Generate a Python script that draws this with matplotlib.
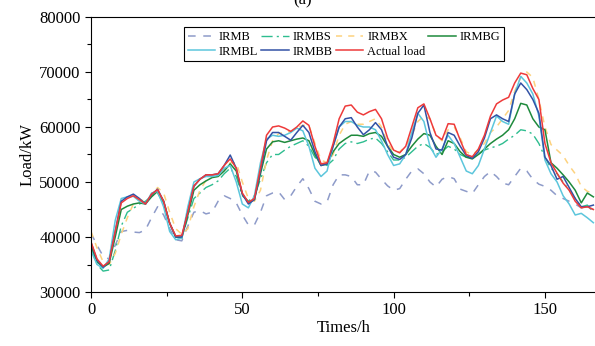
import numpy as np
import matplotlib.pyplot as plt

plt.rcParams['font.family'] = ['Liberation Serif', 'DejaVu Serif']

# hours, sampled every 2 h
t = np.arange(0, 168, 2)

irmb = [40700, 38500, 36500, 36000, 38500, 41000, 41200, 40900, 40800, 41300,
        43500, 45500, 44000, 41500, 39500, 39300, 42000, 44500, 44800, 44200,
        44500, 46500, 47500, 47000, 46200, 44000, 42200, 42200, 44500, 47500,
        48000, 48200, 46800, 47500, 49200, 50600, 48800, 46500, 46000, 46400,
        49500, 51300, 51300, 51000, 49500, 49500, 52000, 51800, 50500, 49300,
        48500, 48800, 50500, 52000, 52400, 51500, 50000, 49100, 50500, 51000,
        50600, 48700, 48300, 47900, 49500, 51000, 51900, 51000, 49800, 49500,
        51000, 52500, 52000, 50500, 49600, 49200, 48500, 47500, 47000, 46500,
        46000, 45300, 45500, 45000]

irmbs = [38000, 35000, 33800, 34000, 37500, 42000, 44500, 45200, 46000, 46500,
         47500, 48000, 46000, 42500, 40000, 40000, 43500, 47000, 48000, 49000,
         49500, 50200, 51500, 52500, 51000, 47500, 46500, 47500, 50500, 53500,
         55000, 55000, 55800, 56500, 57000, 57500, 56500, 54500, 53500, 53000,
         54000, 56000, 57000, 57300, 57000, 57300, 57800, 58000, 57000, 55500,
         54000, 54000, 54500, 55500, 56500, 57000, 56300, 55000, 55500, 56500,
         56000, 55000, 54500, 54500, 55000, 55800, 56200, 56500, 57000, 57800,
         58500, 59500, 59300, 58700, 57000, 54500, 52500, 51500, 50000, 48500,
         47000, 45500, 45800, 44500]

irmbx = [41000, 38000, 35500, 35000, 37000, 40500, 43500, 46000, 46800, 46500,
         47500, 49000, 48000, 44500, 41500, 40500, 41500, 45500, 48500, 50300,
         51000, 51000, 52300, 53500, 53500, 50000, 47000, 46500, 48500, 54000,
         57500, 58800, 59000, 59200, 59800, 60300, 60300, 57000, 54000, 53500,
         55000, 58500, 60500, 61000, 60500, 60500, 61000, 61500, 60000, 57000,
         55500, 55500, 56500, 58500, 61000, 62000, 61500, 58500, 57500, 59500,
         60000, 58000, 55500, 55000, 55800, 57000, 59000, 60000, 61500, 63000,
         66500, 69000, 70000, 69000, 65000, 60000, 56800, 55800, 54800, 53000,
         51500, 49200, 48300, 48000]

irmbg = [38500, 35500, 34500, 35200, 40000, 45000, 45600, 46000, 46200, 46000,
         47300, 48300, 46500, 42500, 40000, 39800, 44000, 48500, 49500, 50200,
         50800, 51000, 52000, 53300, 52000, 47800, 46300, 46800, 51500, 56000,
         57300, 57500, 57200, 57500, 57800, 58000, 57500, 55000, 53000, 53300,
         55500, 57000, 57800, 58500, 58500, 58300, 58800, 59000, 58300, 56500,
         55000, 54500, 55000, 56500, 57800, 58800, 58500, 56500, 55000, 57500,
         57000, 55500, 54500, 54200, 55000, 56000, 57000, 57800, 58500, 59500,
         61500, 64300, 64000, 61500, 60000, 59500, 53500, 52500, 51300, 50000,
         48500, 46200, 48000, 47300]

irmbl = [37500, 35000, 34300, 36000, 43000, 47000, 47300, 47400, 46500, 46000,
         48000, 48300, 45500, 41000, 39500, 39800, 45500, 50000, 50600, 51000,
         51000, 51200, 52500, 53000, 50000, 46000, 45300, 47500, 53500, 57800,
         58500, 58300, 58500, 59000, 59800, 59300, 56500, 52500, 51000, 52000,
         56500, 60000, 61000, 61000, 60300, 60000, 60000, 59500, 57500, 55000,
         53000, 53300, 55000, 59000, 62500, 61000, 56500, 54500, 56000, 58500,
         57000, 54500, 52000, 51500, 53000, 56000, 59000, 62000, 61000, 60500,
         66000, 69200, 68000, 66000, 62000, 54000, 51500, 50000, 47500, 46000,
         44000, 44300, 43500, 42600]

irmbb = [39000, 35800, 34500, 35500, 41000, 46500, 47300, 47800, 47000, 46000,
         47700, 48700, 46500, 42500, 40000, 40000, 44500, 49200, 50500, 51300,
         51300, 51500, 53000, 54900, 52500, 47800, 46000, 46800, 52000, 57500,
         59000, 59000, 58300, 57600, 59000, 60300, 59000, 55500, 53000, 53300,
         56500, 60000, 61500, 61700, 60000, 58600, 59500, 60800, 59500, 56500,
         54500, 54100, 55000, 58000, 62500, 64000, 59000, 56000, 55800, 59000,
         58500, 56500, 54800, 54300, 55500, 58000, 61500, 62200, 61500, 61000,
         66000, 68000, 66800, 65000, 62500, 54500, 53000, 50500, 51000, 49000,
         47000, 45500, 45500, 45800]

actual = [39100, 36000, 34700, 35500, 41000, 46200, 47000, 47500, 46800, 46000,
          47800, 48600, 46500, 42500, 40200, 40300, 44500, 49300, 50500, 51300,
          51300, 51500, 53000, 54200, 52500, 48000, 46300, 47000, 52500, 58500,
          60000, 60200, 59800, 59200, 60000, 61100, 60300, 56500, 53300, 53500,
          57000, 61500, 63800, 64000, 62700, 62200, 62800, 63200, 61500, 58000,
          55800, 55300, 56500, 60000, 63500, 64200, 61500, 58500, 57700, 60600,
          60500, 57600, 55000, 54600, 56000, 58500, 62000, 64200, 64900, 65400,
          68000, 69800, 69500, 67000, 65000, 57000, 53500, 51600, 49800, 48500,
          46500, 45300, 45500, 45000]

fig = plt.figure(figsize=(5.95, 3.46), dpi=100)
ax = fig.add_axes([91/595, 54/346, 506/595, 275/346])

h_b, = ax.plot(t, irmb, color='#8e9bc9', lw=1.1, ls=(0, (5, 5)), label='IRMB')
h_s, = ax.plot(t, irmbs, color='#2ebd8f', lw=1.0, ls=(0, (8, 3, 1.5, 3)), label='IRMBS')
h_x, = ax.plot(t, irmbx, color='#fdd27e', lw=1.1, ls=(0, (4, 4)), label='IRMBX')
h_g, = ax.plot(t, irmbg, color='#1e8a3c', lw=1.1, label='IRMBG')
h_l, = ax.plot(t, irmbl, color='#5cc6dc', lw=1.1, label='IRMBL')
h_bb, = ax.plot(t, irmbb, color='#3352a6', lw=1.1, label='IRMBB')
h_a, = ax.plot(t, actual, color='#ee3a3a', lw=1.1, label='Actual load')

ax.set_xlim(0, 167.2)
ax.set_ylim(30000, 80000)
ax.set_xticks([0, 50, 100, 150])
ax.set_xticks([25, 75, 125], minor=True)
ax.set_yticks(np.arange(30000, 80001, 10000))
ax.set_yticks(np.arange(35000, 80000, 10000), minor=True)
ax.tick_params(labelsize=12, length=4, width=0.8)
ax.tick_params(which='minor', length=3, width=0.8)
ax.spines['right'].set_visible(False)
ax.set_xlabel('Times/h', fontsize=12, labelpad=1)
ax.set_ylabel('Load/kW', fontsize=12, labelpad=3)

# legend fills row by row in the original
handles = [h_b, h_l, h_s, h_bb, h_x, h_a, h_g]
leg = ax.legend(handles=handles, labels=[h.get_label() for h in handles],
                ncol=4, loc='upper center', bbox_to_anchor=(0.5, 0.985),
                fontsize=9, frameon=True, fancybox=False, framealpha=1,
                edgecolor='black', handlelength=2.2, handletextpad=0.3,
                columnspacing=0.25, borderpad=0.3, labelspacing=0.2)
leg.get_frame().set_linewidth(0.8)

fig.text(303/595, 1.0, '(a)', ha='center', va='center', fontsize=12)

fig.savefig('out.png', dpi=100)
